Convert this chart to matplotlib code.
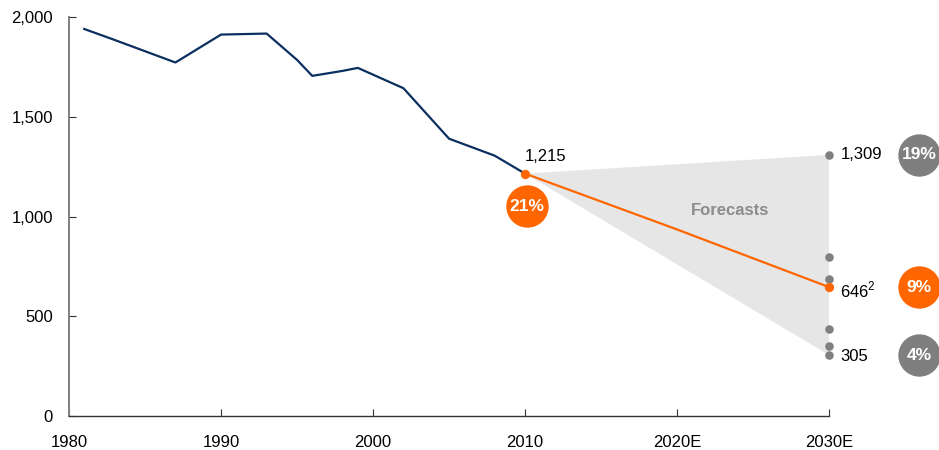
import matplotlib.pyplot as plt

plt.rcParams['font.family'] = ['Liberation Sans', 'DejaVu Sans']
plt.rcParams['mathtext.fontset'] = 'custom'
plt.rcParams['mathtext.rm'] = 'Liberation Sans'

# historical series
years = [1981, 1983, 1987, 1990, 1993, 1995, 1996, 1998, 1999, 2002, 2005, 2008, 2010]
values = [1940, 1885, 1772, 1912, 1917, 1785, 1705, 1730, 1745, 1643, 1390, 1305, 1215]

# central forecast
fc_years = [2010, 2020, 2030]
fc_values = [1215, 935, 646]

# forecast range and other scenarios at 2030
range_high = 1309
range_low = 305
scenario_values = [1309, 797, 685, 437, 352, 305]

xticks = [1980, 1990, 2000, 2010, 2020, 2030]
xlabels = ['1980', '1990', '2000', '2010', '2020E', '2030E']
yticks = [0, 500, 1000, 1500, 2000]

badges = [('19%', range_high, '#7f7f7f'), ('9%', 646, '#ff6600'), ('4%', range_low, '#7f7f7f')]

navy = '#0b2f5f'
orange = '#ff6600'
grey = '#808080'

fig = plt.figure(figsize=(9.39, 4.5), dpi=100)
ax = fig.add_axes([0.0735, 0.0755, 0.8095, 0.8867])

ax.fill([2010, 2030, 2030], [1215, range_high, range_low], color='#e6e6e6', lw=0, zorder=1)
ax.plot(years, values, color=navy, lw=1.6, zorder=3)
ax.plot(fc_years, fc_values, color=orange, lw=1.6, zorder=3)
ax.scatter([2030] * len(scenario_values), scenario_values, s=38, color=grey, zorder=4, clip_on=False, lw=0)
ax.scatter([2010, 2030], [1215, 646], s=45, color=orange, zorder=5, clip_on=False, lw=0)

ax.annotate('1,215', (2010, 1215), xytext=(0, 12), textcoords='offset points',
            ha='left', va='center', fontsize=12)
ax.annotate('1,309', (2030, range_high), xytext=(8.5, 0), textcoords='offset points',
            ha='left', va='center', fontsize=12)
ax.annotate('646$^{2}$', (2030, 646), xytext=(8, -2), textcoords='offset points',
            ha='left', va='center', fontsize=12)
ax.annotate('305', (2030, range_low), xytext=(8, -1), textcoords='offset points',
            ha='left', va='center', fontsize=12)
ax.text(2023.5, 1030, 'Forecasts', ha='center', va='center', fontsize=12,
        fontweight='bold', color='#8c8c8c', zorder=4)

# percentage badges
badge_x = 2035.9
for label, yv, col in badges:
    ax.scatter([badge_x], [yv], s=930, color=col, zorder=5, clip_on=False, lw=0)
    ax.text(badge_x, yv, label, ha='center', va='center', fontsize=12.5,
            fontweight='bold', color='white', zorder=6)
ax.scatter([2010.1], [1051], s=930, color=orange, zorder=5, clip_on=False, lw=0)
ax.text(2010.1, 1051, '21%', ha='center', va='center', fontsize=12.5,
        fontweight='bold', color='white', zorder=6)

ax.set_xlim(1980, 2030)
ax.set_ylim(0, 2000)
ax.set_xticks(xticks)
ax.set_xticklabels(xlabels)
ax.set_yticks(yticks)
ax.set_yticklabels(['{:,}'.format(v) for v in yticks])
ax.tick_params(axis='both', direction='in', length=5, labelsize=12, colors='#333333',
               labelcolor='black')
ax.tick_params(axis='x', pad=13.5)
ax.tick_params(axis='y', pad=11.5)

for s in ['top', 'right']:
    ax.spines[s].set_visible(False)
ax.spines['left'].set_color(grey)
ax.spines['left'].set_linewidth(1.4)
ax.spines['bottom'].set_color('#333333')
ax.spines['bottom'].set_linewidth(1.0)

fig.savefig('out.png', dpi=100)
